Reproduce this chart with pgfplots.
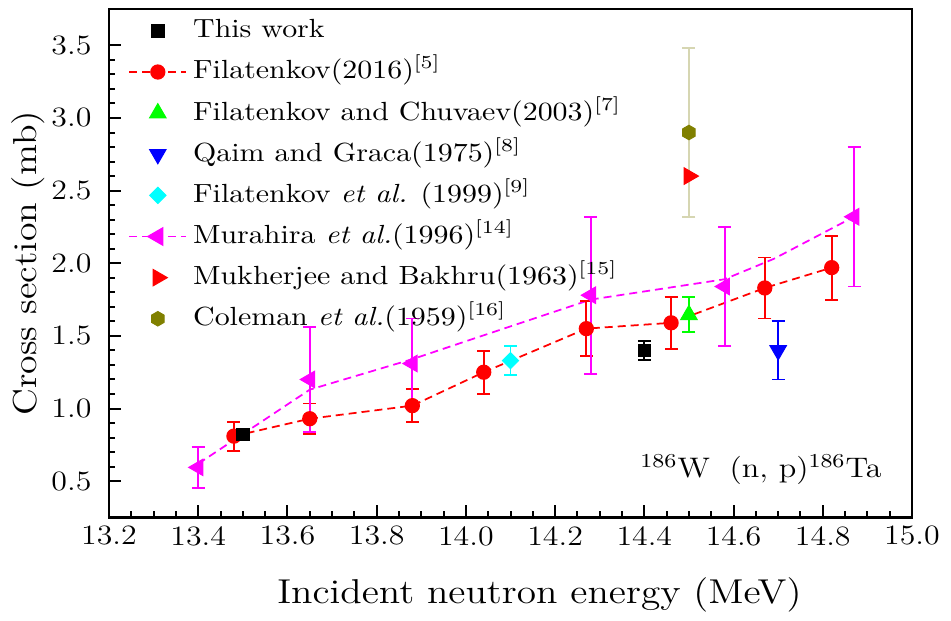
\documentclass[border=0pt]{standalone}
\usepackage{fontspec}
\setmainfont{Latin Modern Roman}[FakeStretch=1.14]
\usepackage{pgfplots}
\pgfplotsset{compat=1.18}
\usetikzlibrary{plotmarks}

\pgfdeclareplotmark{hexagon*}{%
  \pgfpathmoveto{\pgfqpointpolar{90}{\pgfplotmarksize}}%
  \pgfpathlineto{\pgfqpointpolar{150}{\pgfplotmarksize}}%
  \pgfpathlineto{\pgfqpointpolar{210}{\pgfplotmarksize}}%
  \pgfpathlineto{\pgfqpointpolar{270}{\pgfplotmarksize}}%
  \pgfpathlineto{\pgfqpointpolar{330}{\pgfplotmarksize}}%
  \pgfpathlineto{\pgfqpointpolar{30}{\pgfplotmarksize}}%
  \pgfpathclose
  \pgfusepathqfillstroke
}

\definecolor{pgreen}{RGB}{0,255,0}
\definecolor{pblue}{RGB}{0,0,255}
\definecolor{pcyan}{RGB}{0,255,255}
\definecolor{pmag}{RGB}{255,0,255}
\definecolor{pred}{RGB}{255,0,0}
\definecolor{polive}{RGB}{128,128,0}
\definecolor{polivelight}{RGB}{214,214,178}

\pgfplotsset{
  legline/.style={legend image code/.code={\draw[mark repeat=2,mark phase=2,##1] plot coordinates {(0cm,0cm) (0.4cm,0cm) (0.8cm,0cm)};}},
  legmark/.style={legend image code/.code={\path (0cm,0cm) (0.8cm,0cm); \draw[##1] plot coordinates {(0.4cm,0cm)};}},
  errs/.style={/pgfplots/error bars/.cd, y dir=both, y explicit,
     error bar style={line width=0.75pt, solid},
     error mark options={rotate=90, mark size=2.6pt, line width=0.75pt, solid}, /pgfplots/.cd},
}

\pgfplotstableread{
x y e
13.48 0.81 0.10
13.65 0.93 0.105
13.88 1.02 0.115
14.04 1.25 0.148
14.27 1.55 0.19
14.46 1.59 0.18
14.67 1.83 0.21
14.82 1.97 0.22
}\filatenkov

\pgfplotstableread{
x y e
13.40 0.595 0.143
13.65 1.20 0.36
13.88 1.31 0.31
14.28 1.78 0.54
14.58 1.84 0.41
14.87 2.32 0.48
}\murahira

\pgfplotstableread{
x y
13.40 0.62
13.65 1.13
13.88 1.34
14.28 1.75
14.58 1.89
14.69 2.03
14.87 2.32
}\murahiraline

\pgfplotstableread{
x y e
13.50 0.82 0.02
14.40 1.40 0.065
}\thiswork

\begin{document}
\begin{tikzpicture}
\begin{axis}[
  scale only axis,
  width=321.2pt, height=203.4pt,
  xmin=13.2, xmax=15.0, ymin=0.25, ymax=3.75,
  xtick={13.2,13.4,13.6,13.8,14.0,14.2,14.4,14.6,14.8,15.0},
  xticklabels={\textrm{13.2},\textrm{13.4},\textrm{13.6},\textrm{13.8},\textrm{14.0},\textrm{14.2},\textrm{14.4},\textrm{14.6},\textrm{14.8},\textrm{15.0}},
  ytick={0.5,1.0,1.5,2.0,2.5,3.0,3.5},
  yticklabels={\textrm{0.5},\textrm{1.0},\textrm{1.5},\textrm{2.0},\textrm{2.5},\textrm{3.0},\textrm{3.5}},
  minor x tick num=3, minor y tick num=4,
  tick align=inside, tick pos=left,
  major tick length=5pt, minor tick length=2.5pt,
  every tick/.style={black, line width=0.8pt},
  axis line style={line width=1pt},
  tick label style={font=\fontsize{11.2}{13}\selectfont},
  y tick label style={xshift=-3.5pt},
  xlabel={Incident neutron energy (MeV)},
  ylabel={Cross section (mb)},
  xlabel style={at={(axis description cs:0.536,-0.152)}, anchor=center, font=\fontsize{13.8}{16}\selectfont},
  ylabel style={at={(axis description cs:-0.101,0.5)}, anchor=center, rotate=0, font=\fontsize{13.3}{16}\selectfont},
  legend cell align=left,
  legend style={draw=none, fill=none, at={(axis description cs:0,1)}, anchor=north west,
    xshift=7.6pt, yshift=-2.8pt, inner xsep=0pt, inner ysep=0pt,
    font=\fontsize{10.5}{13}\selectfont, row sep=4.95pt, column sep=2.4pt,
    nodes={inner sep=0pt, text height=8.5pt, text depth=3pt}},
]
% lines
\addplot[pmag, line width=0.7pt, dash pattern=on 3.2pt off 2pt, forget plot] table[x=x,y=y] {\murahiraline};
\addplot[forget plot, pred, line width=0.7pt, dash pattern=on 3.2pt off 2pt, mark=*, mark size=2.7pt,
  mark options={solid, fill=pred, draw=pred}, errs]
  table[x=x,y=y,y error=e] {\filatenkov};
% Filatenkov 1999
\addplot[forget plot, pcyan, only marks, mark=square*, mark size=2.3pt, mark options={rotate=45, fill=pcyan, draw=pcyan}, errs]
  table[x=x,y=y,y error=e] {
x y e
14.10 1.33 0.10
};
% Chuvaev
\addplot[forget plot, pgreen, only marks, mark=triangle*, mark size=3.8pt, mark options={fill=pgreen, draw=pgreen}, errs]
  table[x=x,y=y,y error=e] {
x y e
14.50 1.645 0.12
};
% Qaim
\addplot[forget plot, pblue, only marks, mark=triangle*, mark size=3.8pt, mark options={rotate=180, fill=pblue, draw=pblue}, errs]
  table[x=x,y=y,y error=e] {
x y e
14.70 1.40 0.20
};
% Coleman
\addplot[forget plot, polivelight, only marks, mark=hexagon*, mark size=2.9pt, mark options={fill=polive, draw=polive}, errs]
  table[x=x,y=y,y error=e] {
x y e
14.50 2.90 0.58
};
% Mukherjee
\addplot[forget plot, pred, only marks, mark=triangle*, mark size=3.8pt, mark options={rotate=-90, fill=pred, draw=pred}]
  table[x=x,y=y] {
x y
14.50 2.60
};
% Murahira markers
\addplot[forget plot, pmag, only marks, mark=triangle*, mark size=3.8pt, mark options={rotate=90, fill=pmag, draw=pmag}, errs]
  table[x=x,y=y,y error=e] {\murahira};
% This work
\addplot[forget plot, black, only marks, mark=square*, mark size=2.5pt, mark options={fill=black, draw=black}, errs]
  table[x=x,y=y,y error=e] {\thiswork};

% legend
\addlegendimage{legmark, black, mark=square*, mark size=2.5pt, mark options={fill=black}}
\addlegendentry{This work}
\addlegendimage{legline, pred, line width=0.7pt, dash pattern=on 3.2pt off 2pt, mark=*, mark size=2.7pt, mark options={solid, fill=pred}}
\addlegendentry{Filatenkov(2016)\textsuperscript{[5]}}
\addlegendimage{legmark, pgreen, mark=triangle*, mark size=3.8pt, mark options={fill=pgreen}}
\addlegendentry{Filatenkov and Chuvaev(2003)\textsuperscript{[7]}}
\addlegendimage{legmark, pblue, mark=triangle*, mark size=3.8pt, mark options={rotate=180, fill=pblue}}
\addlegendentry{Qaim and Graca(1975)\textsuperscript{[8]}}
\addlegendimage{legmark, pcyan, mark=square*, mark size=2.3pt, mark options={rotate=45, fill=pcyan}}
\addlegendentry{Filatenkov \textit{et al.} (1999)\textsuperscript{[9]}}
\addlegendimage{legline, pmag, line width=0.7pt, dash pattern=on 3.2pt off 2pt, mark=triangle*, mark size=3.8pt, mark options={solid, rotate=90, fill=pmag}}
\addlegendentry{Murahira \textit{et al.}(1996)\textsuperscript{[14]}}
\addlegendimage{legmark, pred, mark=triangle*, mark size=3.8pt, mark options={rotate=-90, fill=pred}}
\addlegendentry{Mukherjee and Bakhru(1963)\textsuperscript{[15]}}
\addlegendimage{legmark, polive, mark=hexagon*, mark size=2.9pt, mark options={fill=polive}}
\addlegendentry{Coleman \textit{et al.}(1959)\textsuperscript{[16]}}

\node[anchor=base east, inner sep=0pt, font=\fontsize{11.3}{14}\selectfont] at (axis cs:14.933,0.527) {\textsuperscript{186}W\hspace{0.7em}(n,\ p)\textsuperscript{186}Ta};
\end{axis}
\path (-43.6pt,-39.8pt) rectangle (336.8pt,207pt);
\end{tikzpicture}
\end{document}
